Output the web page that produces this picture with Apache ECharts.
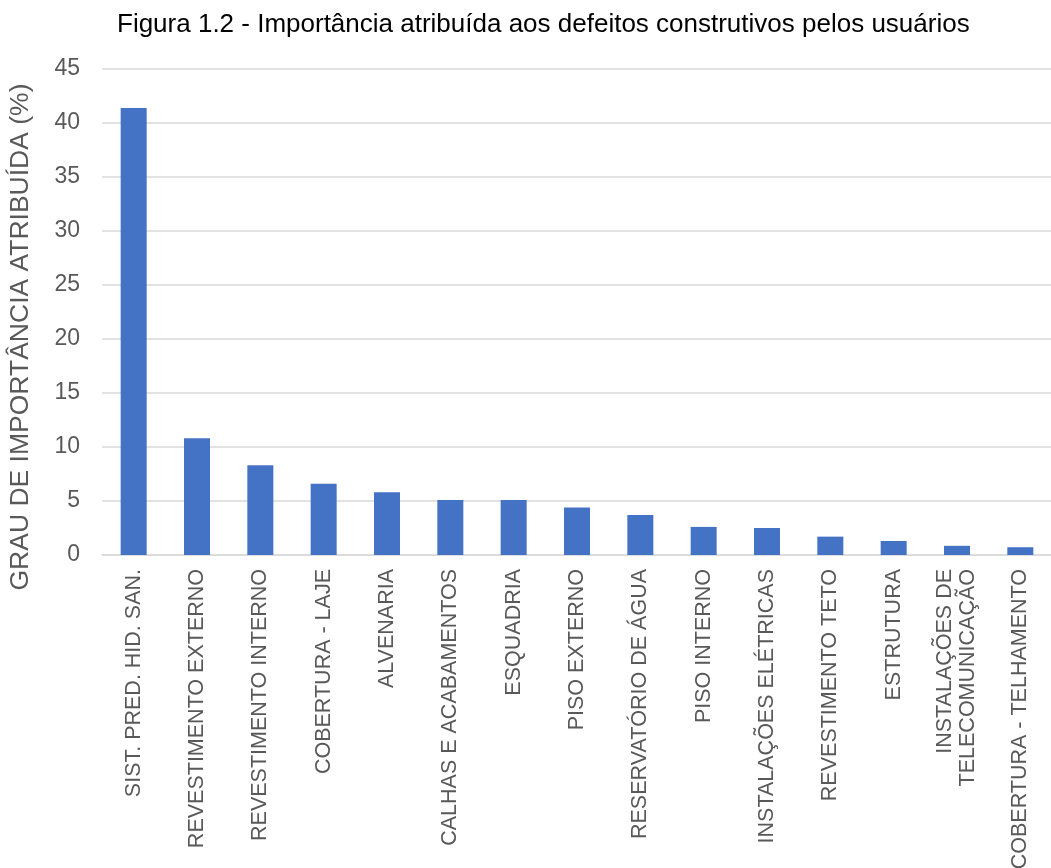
<!DOCTYPE html>
<html>
<head>
<meta charset="utf-8">
<script src="https://cdn.jsdelivr.net/npm/echarts@6/dist/echarts.min.js"></script>
<style>
html,body{margin:0;padding:0;background:#fff;}
#chart{width:1051px;height:868px;}
</style>
</head>
<body>
<div id="chart"></div>
<script>
const titleText = 'Figura 1.2 - Importância atribuída aos defeitos construtivos pelos usuários';
const yAxisName = 'GRAU DE IMPORTÂNCIA ATRIBUÍDA (%)';
const categories = [
  'SIST. PRED. HID. SAN.',
  'REVESTIMENTO EXTERNO',
  'REVESTIMENTO INTERNO',
  'COBERTURA - LAJE',
  'ALVENARIA',
  'CALHAS E ACABAMENTOS',
  'ESQUADRIA',
  'PISO EXTERNO',
  'RESERVATÓRIO DE ÁGUA',
  'PISO INTERNO',
  'INSTALAÇÕES ELÉTRICAS',
  'REVESTIMENTO TETO',
  'ESTRUTURA',
  'INSTALAÇÕES DE\nTELECOMUNICAÇÃO',
  'COBERTURA - TELHAMENTO'
];
const values = [41.4, 10.8, 8.3, 6.6, 5.8, 5.1, 5.1, 4.4, 3.7, 2.6, 2.5, 1.7, 1.3, 0.85, 0.72];
const yMin = 0, yMax = 45, yInterval = 5;

const chart = echarts.init(document.getElementById('chart'), null, {renderer: 'canvas'});
chart.setOption({
  backgroundColor: '#ffffff',
  animation: false,
  textStyle: {fontFamily: 'Liberation Sans, Arial, sans-serif'},
  title: {
    text: titleText,
    left: 112,
    top: 7,
    textStyle: {fontFamily: 'Liberation Sans, Arial, sans-serif', fontSize: 26, fontWeight: 'normal', color: '#000000'}
  },
  grid: {left: 102, top: 69, width: 950, bottom: 313, containLabel: false, outerBoundsMode: 'none'},
  xAxis: {
    type: 'category',
    data: categories,
    axisLine: {show: true, lineStyle: {color: '#d9d9d9', width: 1.5}},
    axisTick: {show: false},
    axisLabel: {interval: 0, rotate: 90, fontSize: 21.5, color: '#595959', margin: 14, lineHeight: 23}
  },
  yAxis: {
    type: 'value',
    min: yMin, max: yMax, interval: yInterval,
    name: yAxisName,
    nameLocation: 'middle',
    nameRotate: 90,
    nameGap: 68,
    nameTextStyle: {fontSize: 26.5, color: '#595959', padding: [0, 50, 0, 0]},
    axisLine: {show: false},
    axisTick: {show: false},
    axisLabel: {fontSize: 23, color: '#595959', margin: 22},
    splitLine: {show: true, lineStyle: {color: '#d9d9d9', width: 1.5}}
  },
  series: [{
    type: 'bar',
    data: values,
    barWidth: 26,
    itemStyle: {color: '#4472C4'}
  }]
});
</script>
</body>
</html>
